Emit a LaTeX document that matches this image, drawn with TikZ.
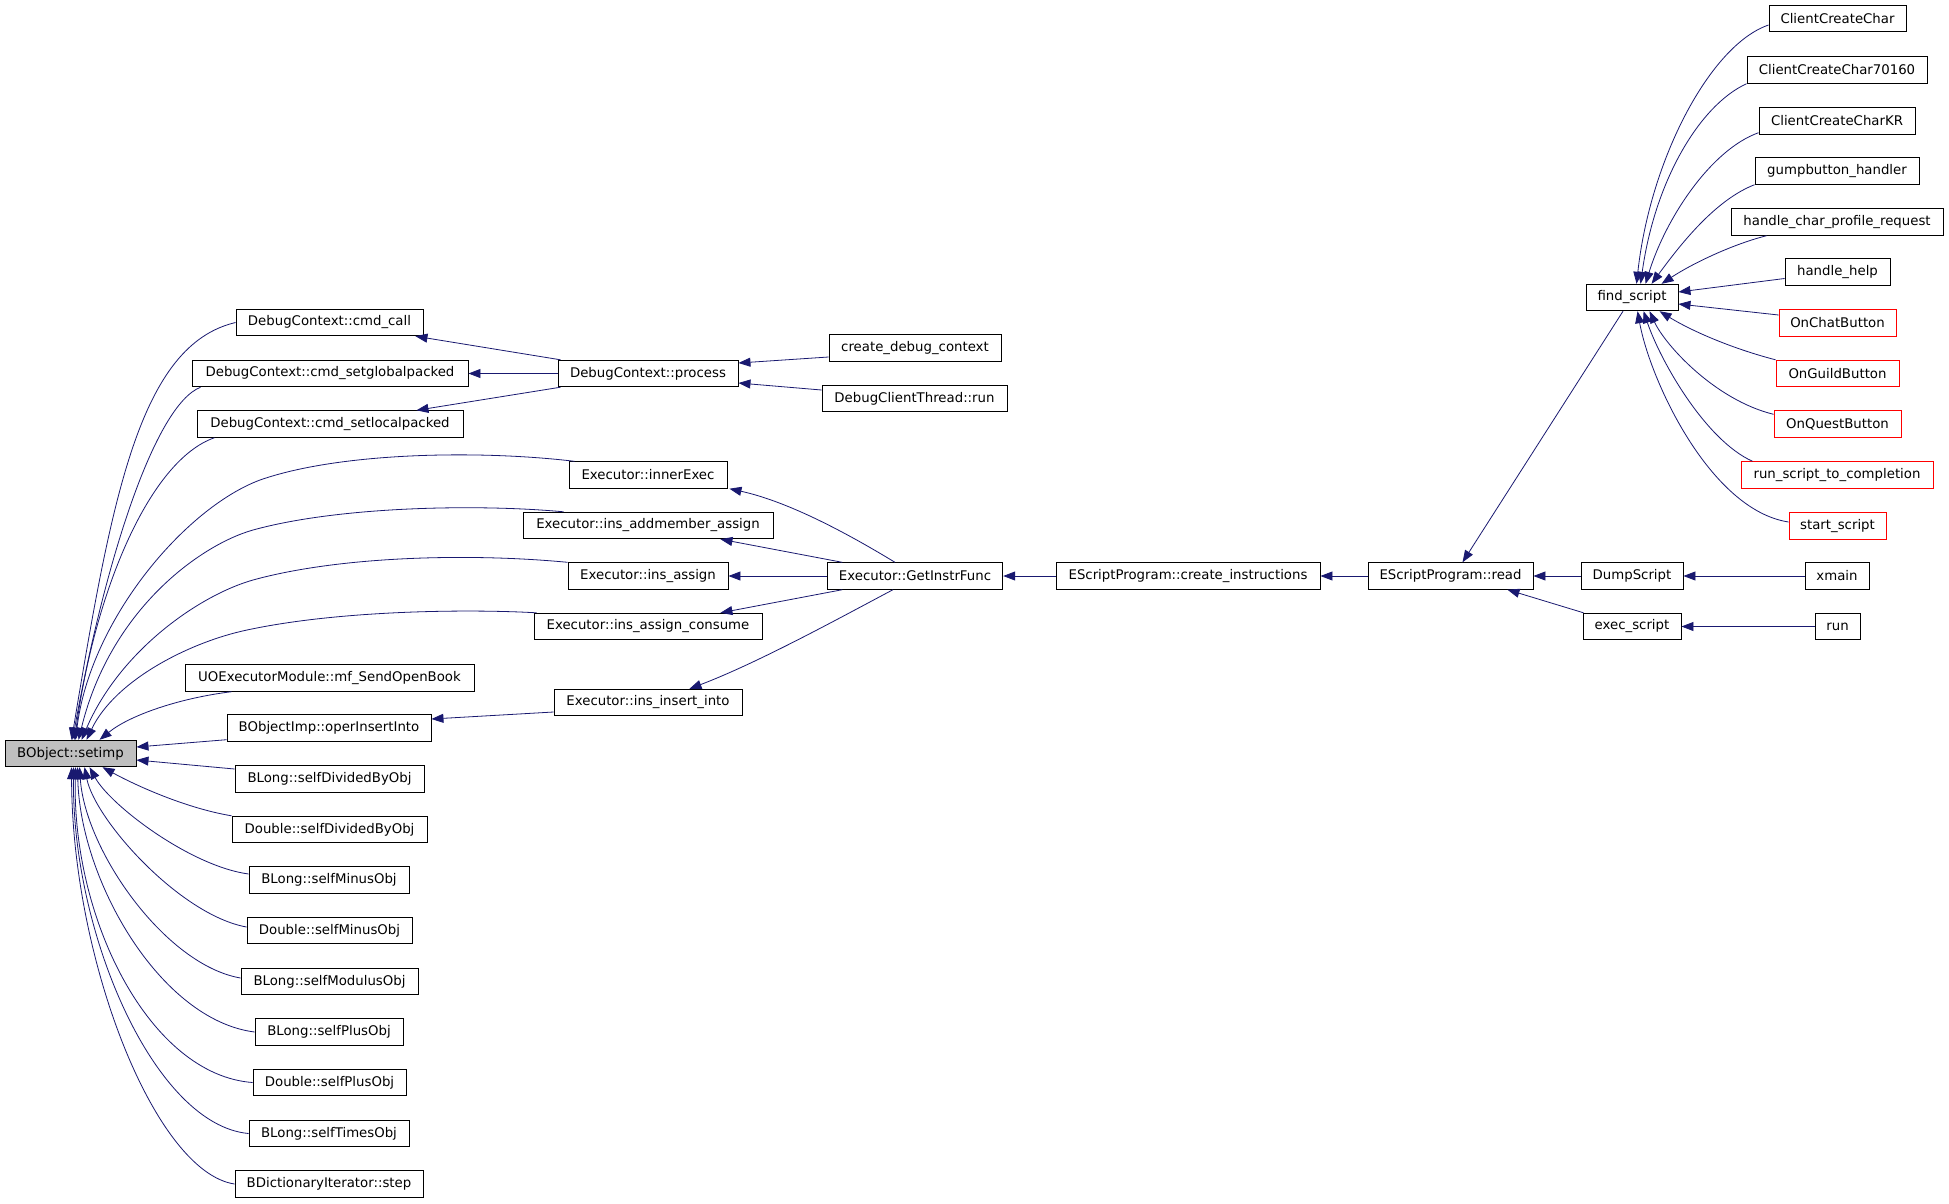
\documentclass[tikz,border=0pt]{standalone}
\usepackage{fontspec}
\setmainfont{DejaVu Sans}
\usetikzlibrary{arrows.meta}
\definecolor{edgeblue}{RGB}{25,25,112}
\definecolor{nodegray}{RGB}{191,191,191}
\begin{document}
\begin{tikzpicture}[x=1pt,y=-1pt,
  fn/.style={draw=black, line width=0.9pt, fill=white, inner sep=0pt, minimum height=26.5pt, font=\fontsize{13.3}{16}\selectfont, text=black},
  redfn/.style={fn, draw=red},
  edge/.style={draw=edgeblue, line width=0.8pt, -{Triangle[length=12pt,width=9pt]}, color=edgeblue}]
\fill[white] (0,0) rectangle (1949,1203);
\useasboundingbox (0,0) rectangle (1949,1203);

% nodes
\node[fn, fill=nodegray, minimum width=131pt] (setimp) at (70.5,753.5) {BObject::setimp};
\node[fn, minimum width=187pt] (cmdcall) at (329.5,322.5) {DebugContext::cmd\_call};
\node[fn, minimum width=276pt] (sgp) at (330,373.5) {DebugContext::cmd\_setglobalpacked};
\node[fn, minimum width=266pt] (slp) at (330,424) {DebugContext::cmd\_setlocalpacked};
\node[fn, minimum width=158pt] (ie) at (648,475) {Executor::innerExec};
\node[fn, minimum width=250pt] (ama) at (648,525.5) {Executor::ins\_addmember\_assign};
\node[fn, minimum width=160pt] (ia) at (648,576) {Executor::ins\_assign};
\node[fn, minimum width=228pt] (iac) at (648,626.5) {Executor::ins\_assign\_consume};
\node[fn, minimum width=289pt] (mf) at (329.5,678) {UOExecutorModule::mf\_SendOpenBook};
\node[fn, minimum width=188pt] (iii) at (648,702.5) {Executor::ins\_insert\_into};
\node[fn, minimum width=204pt] (oii) at (329,728) {BObjectImp::operInsertInto};
\node[fn, minimum width=189pt] (bldiv) at (329.5,779) {BLong::selfDividedByObj};
\node[fn, minimum width=195pt] (ddiv) at (329.5,829.5) {Double::selfDividedByObj};
\node[fn, minimum width=160pt] (blmin) at (329,880) {BLong::selfMinusObj};
\node[fn, minimum width=165pt] (dmin) at (329.5,930.5) {Double::selfMinusObj};
\node[fn, minimum width=177pt] (blmod) at (329.5,981.5) {BLong::selfModulusObj};
\node[fn, minimum width=148pt] (blplus) at (329,1032) {BLong::selfPlusObj};
\node[fn, minimum width=153pt] (dplus) at (329.5,1082.5) {Double::selfPlusObj};
\node[fn, minimum width=160pt] (bltimes) at (329,1133.5) {BLong::selfTimesObj};
\node[fn, minimum width=188pt] (bdi) at (329,1184) {BDictionaryIterator::step};
\node[fn, minimum width=180pt] (proc) at (648,373.5) {DebugContext::process};
\node[fn, minimum width=172pt] (cdc) at (915,348) {create\_debug\_context};
\node[fn, minimum width=185pt] (dct) at (914.5,398.5) {DebugClientThread::run};
\node[fn, minimum width=175.5pt] (gif) at (915,576) {Executor::GetInstrFunc};
\node[fn, minimum width=264pt] (ci) at (1188,576) {EScriptProgram::create\_instructions};
\node[fn, minimum width=165pt] (read) at (1450.5,576) {EScriptProgram::read};
\node[fn, minimum width=92pt] (fs) at (1632,297.5) {find\_script};
\node[fn, minimum width=102pt] (dump) at (1632,576) {DumpScript};
\node[fn, minimum width=98pt] (es) at (1632,626.5) {exec\_script};
\node[fn, minimum width=137pt] (ccc) at (1837.5,18.5) {ClientCreateChar};
\node[fn, minimum width=180pt] (ccc7) at (1837,70) {ClientCreateChar70160};
\node[fn, minimum width=156pt] (ccckr) at (1837,121) {ClientCreateCharKR};
\node[fn, minimum width=164pt] (gump) at (1837,171) {gumpbutton\_handler};
\node[fn, minimum width=212pt] (hcpr) at (1837,222) {handle\_char\_profile\_request};
\node[fn, minimum width=105pt] (hh) at (1837.5,272) {handle\_help};
\node[redfn, minimum width=117pt] (ocb) at (1837.5,323) {OnChatButton};
\node[redfn, minimum width=123pt] (ogb) at (1837.5,373.5) {OnGuildButton};
\node[redfn, minimum width=127pt] (oqb) at (1837.5,424) {OnQuestButton};
\node[redfn, minimum width=192pt] (rstc) at (1837,475) {run\_script\_to\_completion};
\node[redfn, minimum width=97pt] (ss) at (1837.5,526) {start\_script};
\node[fn, minimum width=64pt] (xmain) at (1837,576) {xmain};
\node[fn, minimum width=45pt] (runn) at (1837.5,626.5) {run};

% edges into BObject::setimp (top)
\draw[edge] (cmdcall.west) .. controls (140,345) and (112,495) .. ([xshift=67pt]setimp.north west);
\draw[edge] ([xshift=9pt]sgp.south west) .. controls (155,405) and (105,560) .. ([xshift=68pt]setimp.north west);
\draw[edge] ([xshift=18pt]slp.south west) .. controls (150,460) and (95,590) .. ([xshift=70pt]setimp.north west);
\draw[edge] ([xshift=6pt]ie.north west) .. controls (480,450) and (340,452) .. (260,480) .. controls (185,508) and (90,620) .. ([xshift=71pt]setimp.north west);
\draw[edge] ([xshift=41pt]ama.north west) .. controls (480,504) and (340,506) .. (253,530) .. controls (200,545) and (110,610) .. ([xshift=74pt]setimp.north west);
\draw[edge] (ia.north west) .. controls (470,553) and (340,556) .. (253,580) .. controls (200,595) and (120,650) .. ([xshift=77pt]setimp.north west);
\draw[edge] ([xshift=3pt]iac.north west) .. controls (470,609) and (340,610) .. (247,630) .. controls (190,642) and (115,680) .. ([xshift=82pt]setimp.north west);
\draw[edge] ([xshift=47pt]mf.south west) .. controls (180,698) and (130,715) .. ([xshift=95pt]setimp.north west);
\draw[edge] ([yshift=2pt]oii.south west) -- ([yshift=6.5pt]setimp.east);
\draw[edge] ([yshift=10pt]bldiv.west) -- ([yshift=-6.5pt]setimp.east);

% edges into BObject::setimp (bottom)
\draw[edge] (ddiv.north west) .. controls (185,808) and (135,785) .. ([xshift=98pt]setimp.south west);
\draw[edge] ([yshift=6pt]blmin.west) .. controls (190,866) and (110,805) .. ([xshift=85pt]setimp.south west);
\draw[edge] ([yshift=3.5pt]dmin.west) .. controls (180,915) and (95,820) .. ([xshift=80pt]setimp.south west);
\draw[edge] ([yshift=3.5pt]blmod.west) .. controls (165,965) and (85,850) .. ([xshift=75pt]setimp.south west);
\draw[edge] (blplus.west) .. controls (160,1020) and (80,880) .. ([xshift=73pt]setimp.south west);
\draw[edge] (dplus.west) .. controls (150,1075) and (72,920) .. ([xshift=71pt]setimp.south west);
\draw[edge] (bltimes.west) .. controls (155,1125) and (72,935) .. ([xshift=69pt]setimp.south west);
\draw[edge] (bdi.west) .. controls (155,1172) and (72,960) .. ([xshift=67pt]setimp.south west);

% DebugContext::process
\draw[edge] ([xshift=3pt]proc.north west) -- ([xshift=-8pt]cmdcall.south east);
\draw[edge] (proc.west) -- (sgp.east);
\draw[edge] ([xshift=3pt]proc.south west) -- ([xshift=-47pt]slp.north east);
\draw[edge] ([yshift=-9pt]cdc.west) -- ([yshift=10.5pt]proc.east);
\draw[edge] ([yshift=8.5pt]dct.west) -- ([yshift=-9.5pt]proc.east);

% Executor::GetInstrFunc
\draw[edge] ([xshift=-20pt]gif.north) .. controls (850,535) and (790,502) .. ([xshift=2pt]ie.south east);
\draw[edge] ([xshift=15.5pt]gif.north west) -- ([xshift=-53pt]ama.south east);
\draw[edge] (gif.west) -- (ia.east);
\draw[edge] ([xshift=15.5pt]gif.south west) -- ([xshift=-42pt]iac.north east);
\draw[edge] ([xshift=-22pt]gif.south) .. controls (845,615) and (760,662) .. ([xshift=-53pt]iii.north east);
\draw[edge] ([yshift=-9.5pt]iii.west) -- ([yshift=9pt]oii.east);

% chain
\draw[edge] (ci.west) -- (gif.east);
\draw[edge] (read.west) -- (ci.east);
\draw[edge] (dump.west) -- (read.east);
\draw[edge] ([xshift=-9pt]fs.south) -- ([xshift=12pt]read.north);
\draw[edge] ([xshift=1pt]es.north west) -- ([xshift=-26pt]read.south east);
\draw[edge] (xmain.west) -- (dump.east);
\draw[edge] (runn.west) -- (es.east);

% find_script callers
\draw[edge] ([yshift=-6.5pt]ccc.west) .. controls (1710,45) and (1650,160) .. ([xshift=51pt]fs.north west);
\draw[edge] (ccc7.south west) .. controls (1700,105) and (1655,180) .. ([xshift=55pt]fs.north west);
\draw[edge] ([yshift=2pt]ccckr.south west) .. controls (1710,150) and (1665,220) .. ([xshift=60pt]fs.north west);
\draw[edge] (gump.south west) .. controls (1715,200) and (1680,245) .. ([xshift=66pt]fs.north west);
\draw[edge] ([xshift=36pt]hcpr.south west) .. controls (1730,245) and (1690,265) .. ([xshift=76pt]fs.north west);
\draw[edge] ([yshift=-6.5pt]hh.west) -- ([yshift=5.5pt]fs.east);
\draw[edge] ([yshift=8pt]ocb.west) -- ([yshift=-6.5pt]fs.east);
\draw[edge] (ogb.north west) .. controls (1730,348) and (1690,330) .. ([xshift=74pt]fs.south west);
\draw[edge] ([yshift=-4pt]oqb.north west) .. controls (1715,400) and (1665,345) .. ([xshift=64pt]fs.south west);
\draw[edge] ([xshift=12pt]rstc.north west) .. controls (1705,440) and (1660,360) .. ([xshift=58pt]fs.south west);
\draw[edge] ([yshift=4pt]ss.west) .. controls (1710,510) and (1650,380) .. ([xshift=52pt]fs.south west);
\end{tikzpicture}
\end{document}
